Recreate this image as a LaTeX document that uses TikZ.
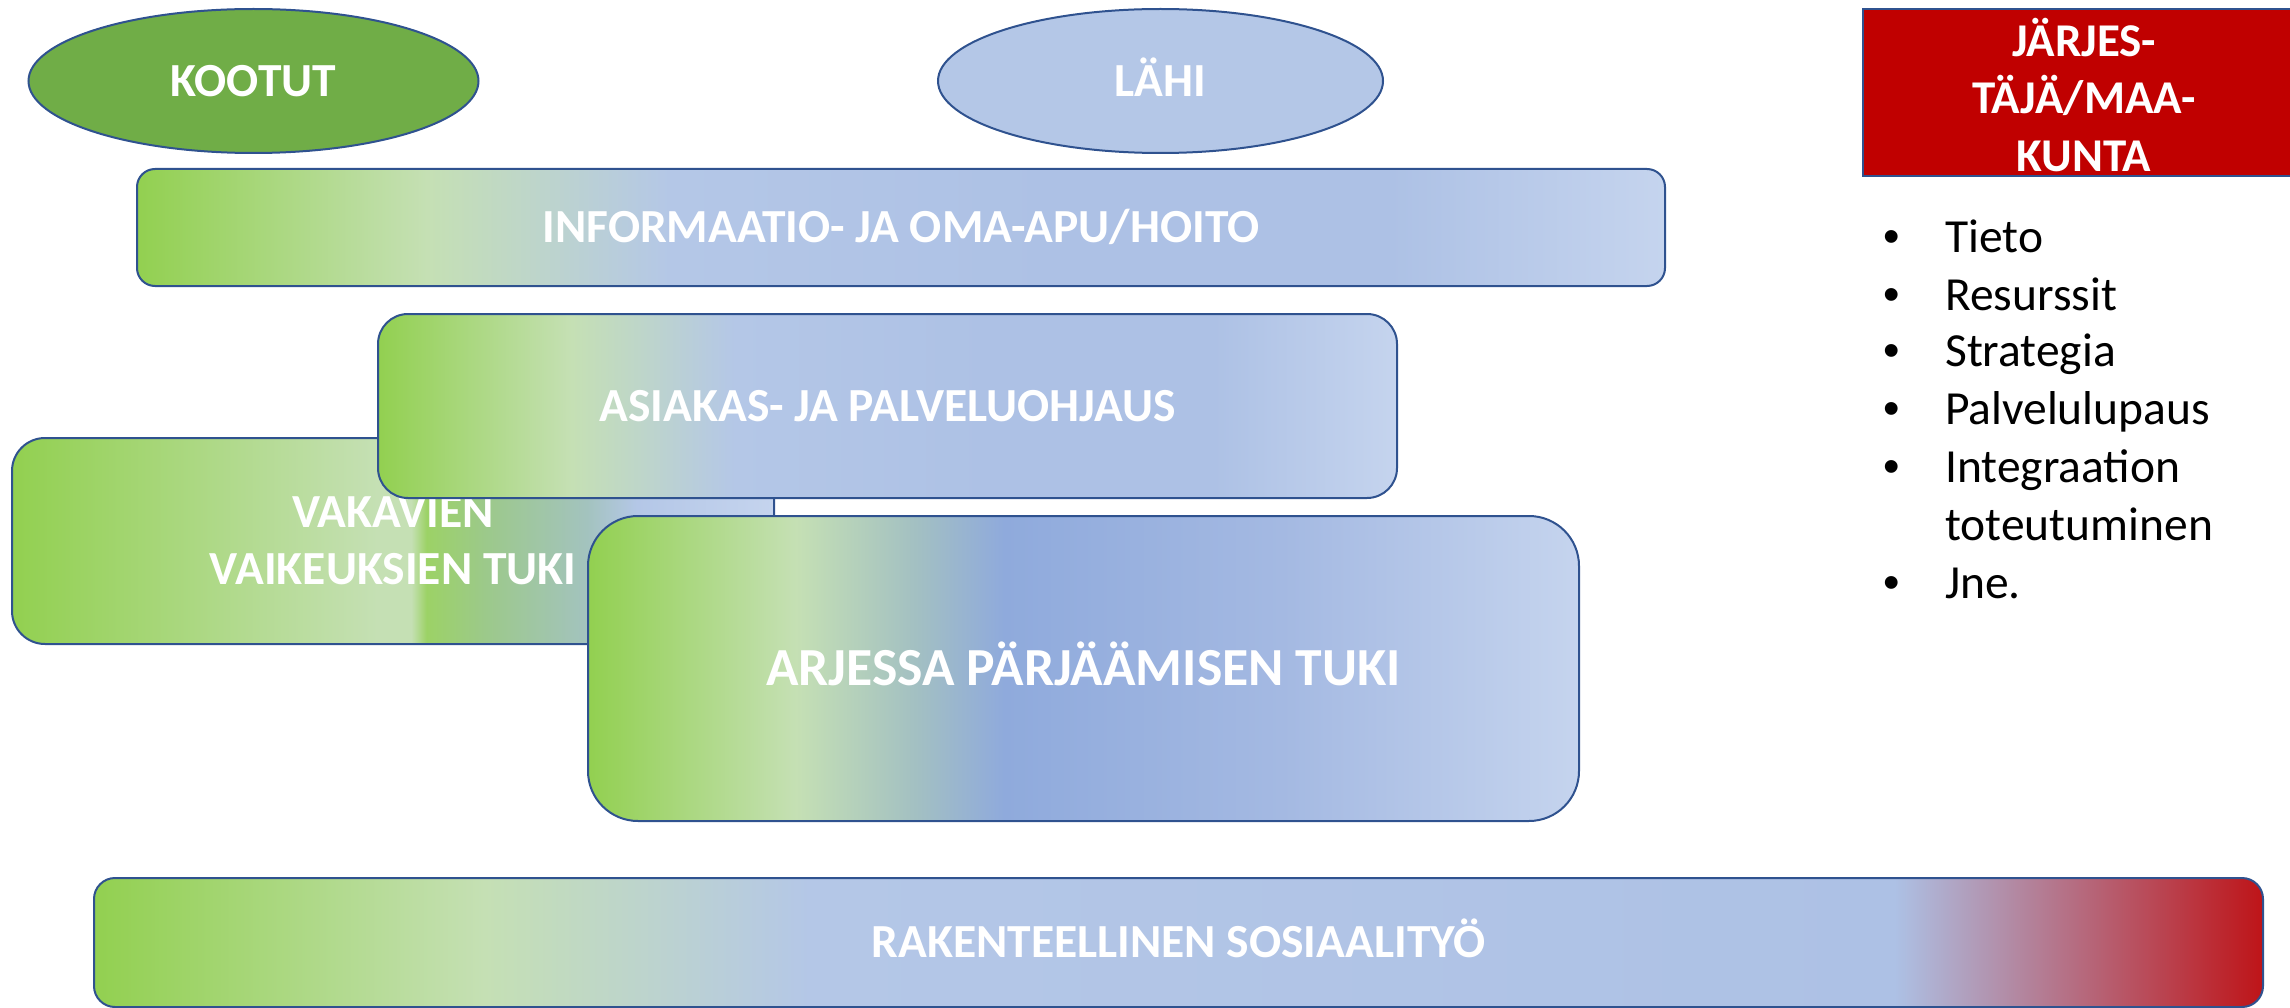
\documentclass[tikz,border=0pt]{standalone}
\usepackage{fontspec}
\setmainfont{Carlito}
\newfontfamily\bulletfont{Liberation Sans}
\usetikzlibrary{shapes.geometric}
\definecolor{bordblue}{HTML}{2F528F}
\definecolor{gA}{HTML}{92D050}
\definecolor{gL}{HTML}{C5E0B4}
\definecolor{bB}{HTML}{B4C7E7}
\definecolor{bM}{HTML}{ADC1E5}
\definecolor{bR}{HTML}{C5D4EE}
\definecolor{bD}{HTML}{8FAADC}
\definecolor{tealC}{HTML}{A3C0C2}
\definecolor{vG1}{HTML}{9CD266}
\definecolor{vG2}{HTML}{9CC98A}
\definecolor{vT}{HTML}{A3C3BE}
\definecolor{aB2}{HTML}{A4B9E2}
\definecolor{redR}{HTML}{BE1418}
\definecolor{kootutC}{HTML}{70AD47}
\definecolor{lahiC}{HTML}{B4C7E7}
\definecolor{jred}{HTML}{C00000}
\pgfdeclarehorizontalshading{infoShade}{100bp}{color(0bp)=(gA); color(25bp)=(gA); color(34.5bp)=(gL); color(42.5bp)=(bB); color(55bp)=(bM); color(66bp)=(bM); color(75bp)=(bR); color(100bp)=(bR)}
\pgfdeclarehorizontalshading{vakShade}{100bp}{color(0bp)=(gA); color(25bp)=(gA); color(49bp)=(gL); color(51.2bp)=(gL); color(52.2bp)=(vG1); color(56bp)=(vG2); color(62.7bp)=(vT); color(66bp)=(bB); color(75bp)=(bR); color(100bp)=(bR)}
\pgfdeclarehorizontalshading{arjShade}{100bp}{color(0bp)=(gA); color(25bp)=(gA); color(35.5bp)=(gL); color(41.5bp)=(tealC); color(46bp)=(bD); color(60bp)=(aB2); color(75bp)=(bR); color(100bp)=(bR)}
\pgfdeclarehorizontalshading{rakShade}{100bp}{color(0bp)=(gA); color(25bp)=(gA); color(34bp)=(gL); color(41.5bp)=(bB); color(66.5bp)=(bM); color(75bp)=(redR); color(100bp)=(redR)}
\tikzset{
  shapebase/.style={draw=bordblue, line width=2pt, inner sep=0pt, text=white,
    font=\bfseries\fontsize{47.5}{57}\selectfont, align=center},
  oneline/.style={text height=30.5pt, text depth=0pt},
  bulletdot/.style={anchor=base, inner sep=0pt, font=\bulletfont\fontsize{47}{57}\selectfont},
  bullettext/.style={anchor=base west, inner sep=0pt, font=\fontsize{47.5}{57}\selectfont},
}
\begin{document}
\begin{tikzpicture}[x=1pt, y=-1pt]
\useasboundingbox (0,0) rectangle (2290,1008);
% ellipses
\node[shapebase, oneline, ellipse, fill=kootutC, minimum width=450pt, minimum height=144pt] (kootut) at (253.5,81) {KOOTUT};
\node[shapebase, oneline, ellipse, fill=lahiC, minimum width=445pt, minimum height=144pt] (lahi) at (1160.5,81) {LÄHI};
% red box
\node[draw=bordblue, line width=1.5pt, fill=jred, minimum width=442pt, minimum height=167pt, inner sep=0pt] (jbox) at (2084,92.5) {};
\node[text=white, font=\bfseries\fontsize{47}{57.5}\selectfont, align=center, inner sep=0pt] (jtext) at (2084,95) {JÄRJES-\\TÄJÄ/MAA-\\KUNTA};
% boxes
\node[shapebase, oneline, shading=infoShade, rounded corners=18pt, minimum width=1528pt, minimum height=117pt] (info) at (901,227.5) {INFORMAATIO- JA OMA-APU/HOITO};
\node[shapebase, shading=vakShade, rounded corners=33pt, minimum width=762pt, minimum height=206pt] (vak) at (393,541) {VAKAVIEN\\VAIKEUKSIEN TUKI};
\node[shapebase, oneline, shading=infoShade, rounded corners=30pt, minimum width=1019pt, minimum height=184pt] (asiakas) at (887.5,406) {ASIAKAS- JA PALVELUOHJAUS};
\node[shapebase, shading=arjShade, rounded corners=50pt, minimum width=991pt, minimum height=305pt, text height=34.5pt, text depth=0pt, font=\bfseries\fontsize{53.6}{62}\selectfont] (arj) at (1083.5,668.5) {ARJESSA PÄRJÄÄMISEN TUKI};
\node[shapebase, oneline, shading=rakShade, rounded corners=21pt, minimum width=2169pt, minimum height=129pt] (rak) at (1178.5,942.5) {RAKENTEELLINEN SOSIAALITYÖ};
% bullet list
\node[bulletdot] (b1) at (1892,252.7) {•};
\node[bullettext] (t1) at (1945,252.7) {Tieto};
\node[bulletdot] (b2) at (1892,310) {•};
\node[bullettext] (t2) at (1945,310) {Resurssit};
\node[bulletdot] (b3) at (1892,366.7) {•};
\node[bullettext] (t3) at (1945,366.7) {Strategia};
\node[bulletdot] (b4) at (1892,424) {•};
\node[bullettext] (t4) at (1945,424) {Palvelulupaus};
\node[bulletdot] (b5) at (1892,482.7) {•};
\node[bullettext] (t5) at (1945,482.7) {Integraation};
\node[bullettext] (t6) at (1945,540.7) {toteutuminen};
\node[bulletdot] (b7) at (1892,598) {•};
\node[bullettext] (t7) at (1945,598) {Jne.};
\end{tikzpicture}
\end{document}
